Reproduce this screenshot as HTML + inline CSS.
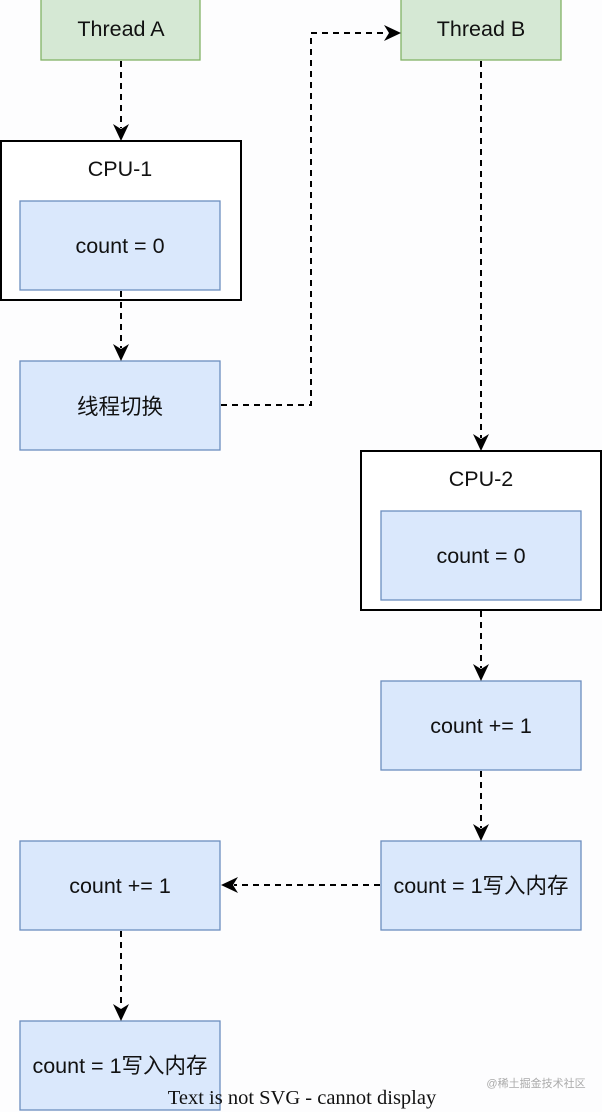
<!DOCTYPE html>
<html><head><meta charset="utf-8"><style>
html,body{margin:0;padding:0;background:#fff;width:602px;height:1112px;overflow:hidden}
text{font-family:"Liberation Sans","Noto Sans CJK SC",sans-serif;font-size:21.5px;fill:#111}
</style></head><body>
<svg width="602" height="1112" viewBox="0 0 602 1112" xmlns="http://www.w3.org/2000/svg">
<rect x="0" y="0" width="602" height="1112" fill="#fdfdfe"/>
<g stroke="#82b366" fill="#d5e8d4" stroke-width="1.3">
<rect x="41" y="-1" width="159" height="61"/><rect x="401" y="-1" width="160" height="61"/></g>
<text x="121" y="36" text-anchor="middle">Thread A</text>
<text x="481" y="36" text-anchor="middle">Thread B</text>
<g fill="#fff" stroke="#000" stroke-width="2"><rect x="1" y="141" width="240" height="159"/><rect x="361" y="451" width="240" height="159"/></g>
<text x="120" y="176" text-anchor="middle">CPU-1</text>
<text x="481" y="486" text-anchor="middle">CPU-2</text>
<g fill="#dae8fc" stroke="#6c8ebf" stroke-width="1.3">
<rect x="20" y="201" width="200" height="89"/>
<rect x="20" y="361" width="200" height="89"/>
<rect x="381" y="511" width="200" height="89"/>
<rect x="381" y="681" width="200" height="89"/>
<rect x="381" y="841" width="200" height="89"/>
<rect x="20" y="841" width="200" height="89"/>
<rect x="20" y="1021" width="200" height="89"/></g>
<text x="120" y="253" text-anchor="middle">count = 0</text>
<text x="120" y="414" text-anchor="middle">线程切换</text>
<text x="481" y="563" text-anchor="middle">count = 0</text>
<text x="481" y="733" text-anchor="middle">count += 1</text>
<text x="481" y="893" text-anchor="middle">count = 1写入内存</text>
<text x="120" y="893" text-anchor="middle">count += 1</text>
<text x="120" y="1073" text-anchor="middle">count = 1写入内存</text>
<g stroke="#000" stroke-width="2" stroke-dasharray="6,5" fill="none">
<path d="M121,61 V128"/>
<path d="M121,291 V348"/>
<path d="M221,405 H311 V33 H388"/>
<path d="M481,61 V438"/>
<path d="M481,611 V668"/>
<path d="M481,771 V828"/>
<path d="M380,885 H234"/>
<path d="M121,931 V1008"/>
</g>
<g fill="#000">
<path d="M113,124 L121,141 L129,124 L121,129 Z"/>
<path d="M113,344 L121,361 L129,344 L121,349 Z"/>
<path d="M384,25 L401,33 L384,41 L389,33 Z"/>
<path d="M473,434 L481,451 L489,434 L481,439 Z"/>
<path d="M473,664 L481,681 L489,664 L481,669 Z"/>
<path d="M473,824 L481,841 L489,824 L481,829 Z"/>
<path d="M238,877 L221,885 L238,893 L233,885 Z"/>
<path d="M113,1004 L121,1021 L129,1004 L121,1009 Z"/>
</g>
<text x="302" y="1104" text-anchor="middle" style="font-family:'Liberation Serif',serif;font-size:20.5px">Text is not SVG - cannot display</text>
<text x="536" y="1087" text-anchor="middle" style="font-size:11px;fill:#aaa">@稀土掘金技术社区</text>
</svg>
</body></html>
